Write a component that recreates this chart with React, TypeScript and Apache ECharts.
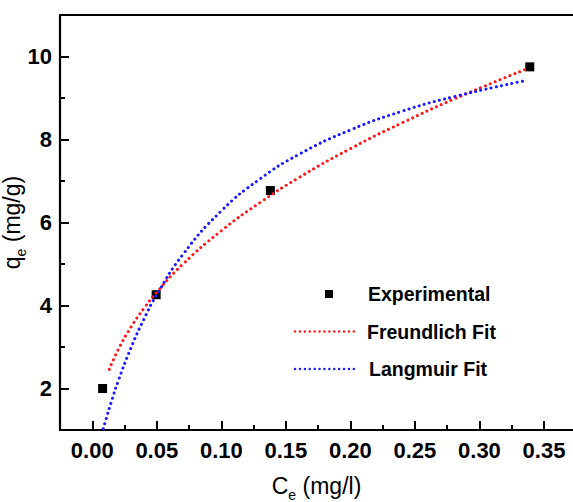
import React, { useEffect, useRef } from 'react';
import * as echarts from 'echarts';

const expC = [0.008, 0.0495, 0.138, 0.339];
const expQ = [2.0, 4.26, 6.77, 9.75];

const freundC = [0.0132, 0.02, 0.03, 0.04, 0.05, 0.07, 0.1, 0.13, 0.16, 0.2, 0.24, 0.28, 0.3358];
const freundQ = [2.46, 2.93, 3.48, 3.93, 4.32, 4.99, 5.8, 6.48, 7.08, 7.78, 8.4, 8.97, 9.69];

const langC = [0.0085, 0.01, 0.015, 0.02, 0.03, 0.04, 0.05, 0.07, 0.1, 0.13, 0.16, 0.2, 0.24, 0.28, 0.3358];
const langQ = [1.03, 1.19, 1.7, 2.17, 2.98, 3.67, 4.26, 5.22, 6.28, 7.05, 7.64, 8.23, 8.68, 9.03, 9.42];

const xMajor = [0, 0.05, 0.1, 0.15, 0.2, 0.25, 0.3, 0.35];
const xMinor = [0.025, 0.075, 0.125, 0.175, 0.225, 0.275, 0.325];
const yMajor = [2, 4, 6, 8, 10];
const yMinor = [3, 5, 7, 9];

const seriesNames = ['Experimental', 'Freundlich Fit', 'Langmuir Fit'];

const RED = '#ff1a1a';
const BLUE = '#1a1aff';
const FONT = "'Liberation Sans', Arial, sans-serif";
const X_MIN = -0.025;
const X_MAX = 0.3725;
const Y_MIN = 1;
const Y_MAX = 11;
const DOT = { width: 3, type: [0.1, 5.2] as number[], cap: 'round' as const };

const zip = (a: number[], b: number[]) => a.map((v, i) => [v, b[i]]);

export default function App() {
  const ref = useRef<HTMLDivElement>(null);
  useEffect(() => {
    if (!ref.current) return;
    const chart = echarts.init(ref.current, null, { renderer: 'svg' });
    const axisLine = { show: true, onZero: false, lineStyle: { color: '#000', width: 2.2 } };
    const nameRich = {
      sub: { fontSize: 14, fontFamily: FONT, color: '#000', verticalAlign: 'bottom', lineHeight: 32 },
    };
    const legendText = { fontFamily: FONT, fontWeight: 'bold', fontSize: 19.5, fill: '#000' };
    const legendLine = (y: number, color: string) => ({
      type: 'line',
      shape: { x1: 295, y1: y, x2: 357, y2: y },
      style: { stroke: color, lineWidth: 2.4, lineDash: [0.1, 4.8], lineCap: 'round' },
    });
    chart.setOption({
      animation: false,
      backgroundColor: '#fff',
      grid: { left: 60, right: 0, top: 15, bottom: 72, containLabel: false, outerBoundsMode: 'none' },
      graphic: [
        { type: 'rect', shape: { x: 325, y: 290, width: 8, height: 8 }, style: { fill: '#000' } },
        { type: 'text', x: 368, y: 294, style: { ...legendText, text: seriesNames[0], verticalAlign: 'middle' } },
        legendLine(331.5, RED),
        { type: 'text', x: 367, y: 331.5, style: { ...legendText, text: seriesNames[1], verticalAlign: 'middle' } },
        legendLine(369, BLUE),
        { type: 'text', x: 369, y: 369, style: { ...legendText, text: seriesNames[2], verticalAlign: 'middle' } },
      ],
      xAxis: [
        {
          type: 'value', min: X_MIN, max: X_MAX, position: 'bottom',
          axisLine,
          splitLine: { show: false },
          axisTick: { show: true, inside: true, length: 9, customValues: xMajor, lineStyle: { color: '#000', width: 2 } },
          axisLabel: {
            customValues: xMajor, margin: 9,
            formatter: (v: number) => v.toFixed(2),
            fontFamily: FONT, fontWeight: 'bold', fontSize: 22, color: '#000',
          },
          name: 'C{sub|e} (mg/l)',
          nameLocation: 'middle',
          nameGap: 40,
          nameMoveOverlap: false,
          nameTextStyle: { fontFamily: FONT, fontSize: 23, color: '#000', lineHeight: 32, rich: nameRich },
        },
        {
          type: 'value', min: X_MIN, max: X_MAX, position: 'bottom',
          axisLine: { show: false, onZero: false },
          splitLine: { show: false },
          axisTick: { show: true, inside: true, length: 5, customValues: xMinor, lineStyle: { color: '#000', width: 2 } },
          axisLabel: { show: false },
        },
        {
          type: 'value', min: X_MIN, max: X_MAX, position: 'top',
          axisLine,
          splitLine: { show: false },
          axisTick: { show: false },
          axisLabel: { show: false },
        },
      ],
      yAxis: [
        {
          type: 'value', min: Y_MIN, max: Y_MAX, position: 'left',
          axisLine,
          splitLine: { show: false },
          axisTick: { show: true, inside: true, length: 9, customValues: yMajor, lineStyle: { color: '#000', width: 2 } },
          axisLabel: {
            customValues: yMajor, margin: 8,
            fontFamily: FONT, fontWeight: 'bold', fontSize: 22, color: '#000',
          },
          name: 'q{sub|e} (mg/g)',
          nameLocation: 'middle',
          nameGap: 32,
          nameRotate: 90,
          nameMoveOverlap: false,
          nameTextStyle: { fontFamily: FONT, fontSize: 23, color: '#000', lineHeight: 32, rich: nameRich },
        },
        {
          type: 'value', min: Y_MIN, max: Y_MAX, position: 'left',
          axisLine: { show: false, onZero: false },
          splitLine: { show: false },
          axisTick: { show: true, inside: true, length: 5, customValues: yMinor, lineStyle: { color: '#000', width: 2 } },
          axisLabel: { show: false },
        },
      ],
      series: [
        {
          name: seriesNames[0],
          type: 'scatter',
          symbol: 'rect',
          symbolSize: 9,
          itemStyle: { color: '#000', opacity: 1 },
          data: zip(expC, expQ),
          z: 2,
        },
        {
          name: seriesNames[1],
          type: 'line',
          smooth: true,
          showSymbol: false,
          symbol: 'none',
          itemStyle: { color: RED },
          lineStyle: { color: RED, ...DOT },
          data: zip(freundC, freundQ),
          z: 3,
        },
        {
          name: seriesNames[2],
          type: 'line',
          smooth: true,
          showSymbol: false,
          symbol: 'none',
          itemStyle: { color: BLUE },
          lineStyle: { color: BLUE, ...DOT },
          data: zip(langC, langQ),
          z: 3,
        },
      ],
    });
    return () => chart.dispose();
  }, []);
  return <div ref={ref} style={{ position: 'absolute', left: 0, top: 0, width: 573, height: 502 }} />;
}
